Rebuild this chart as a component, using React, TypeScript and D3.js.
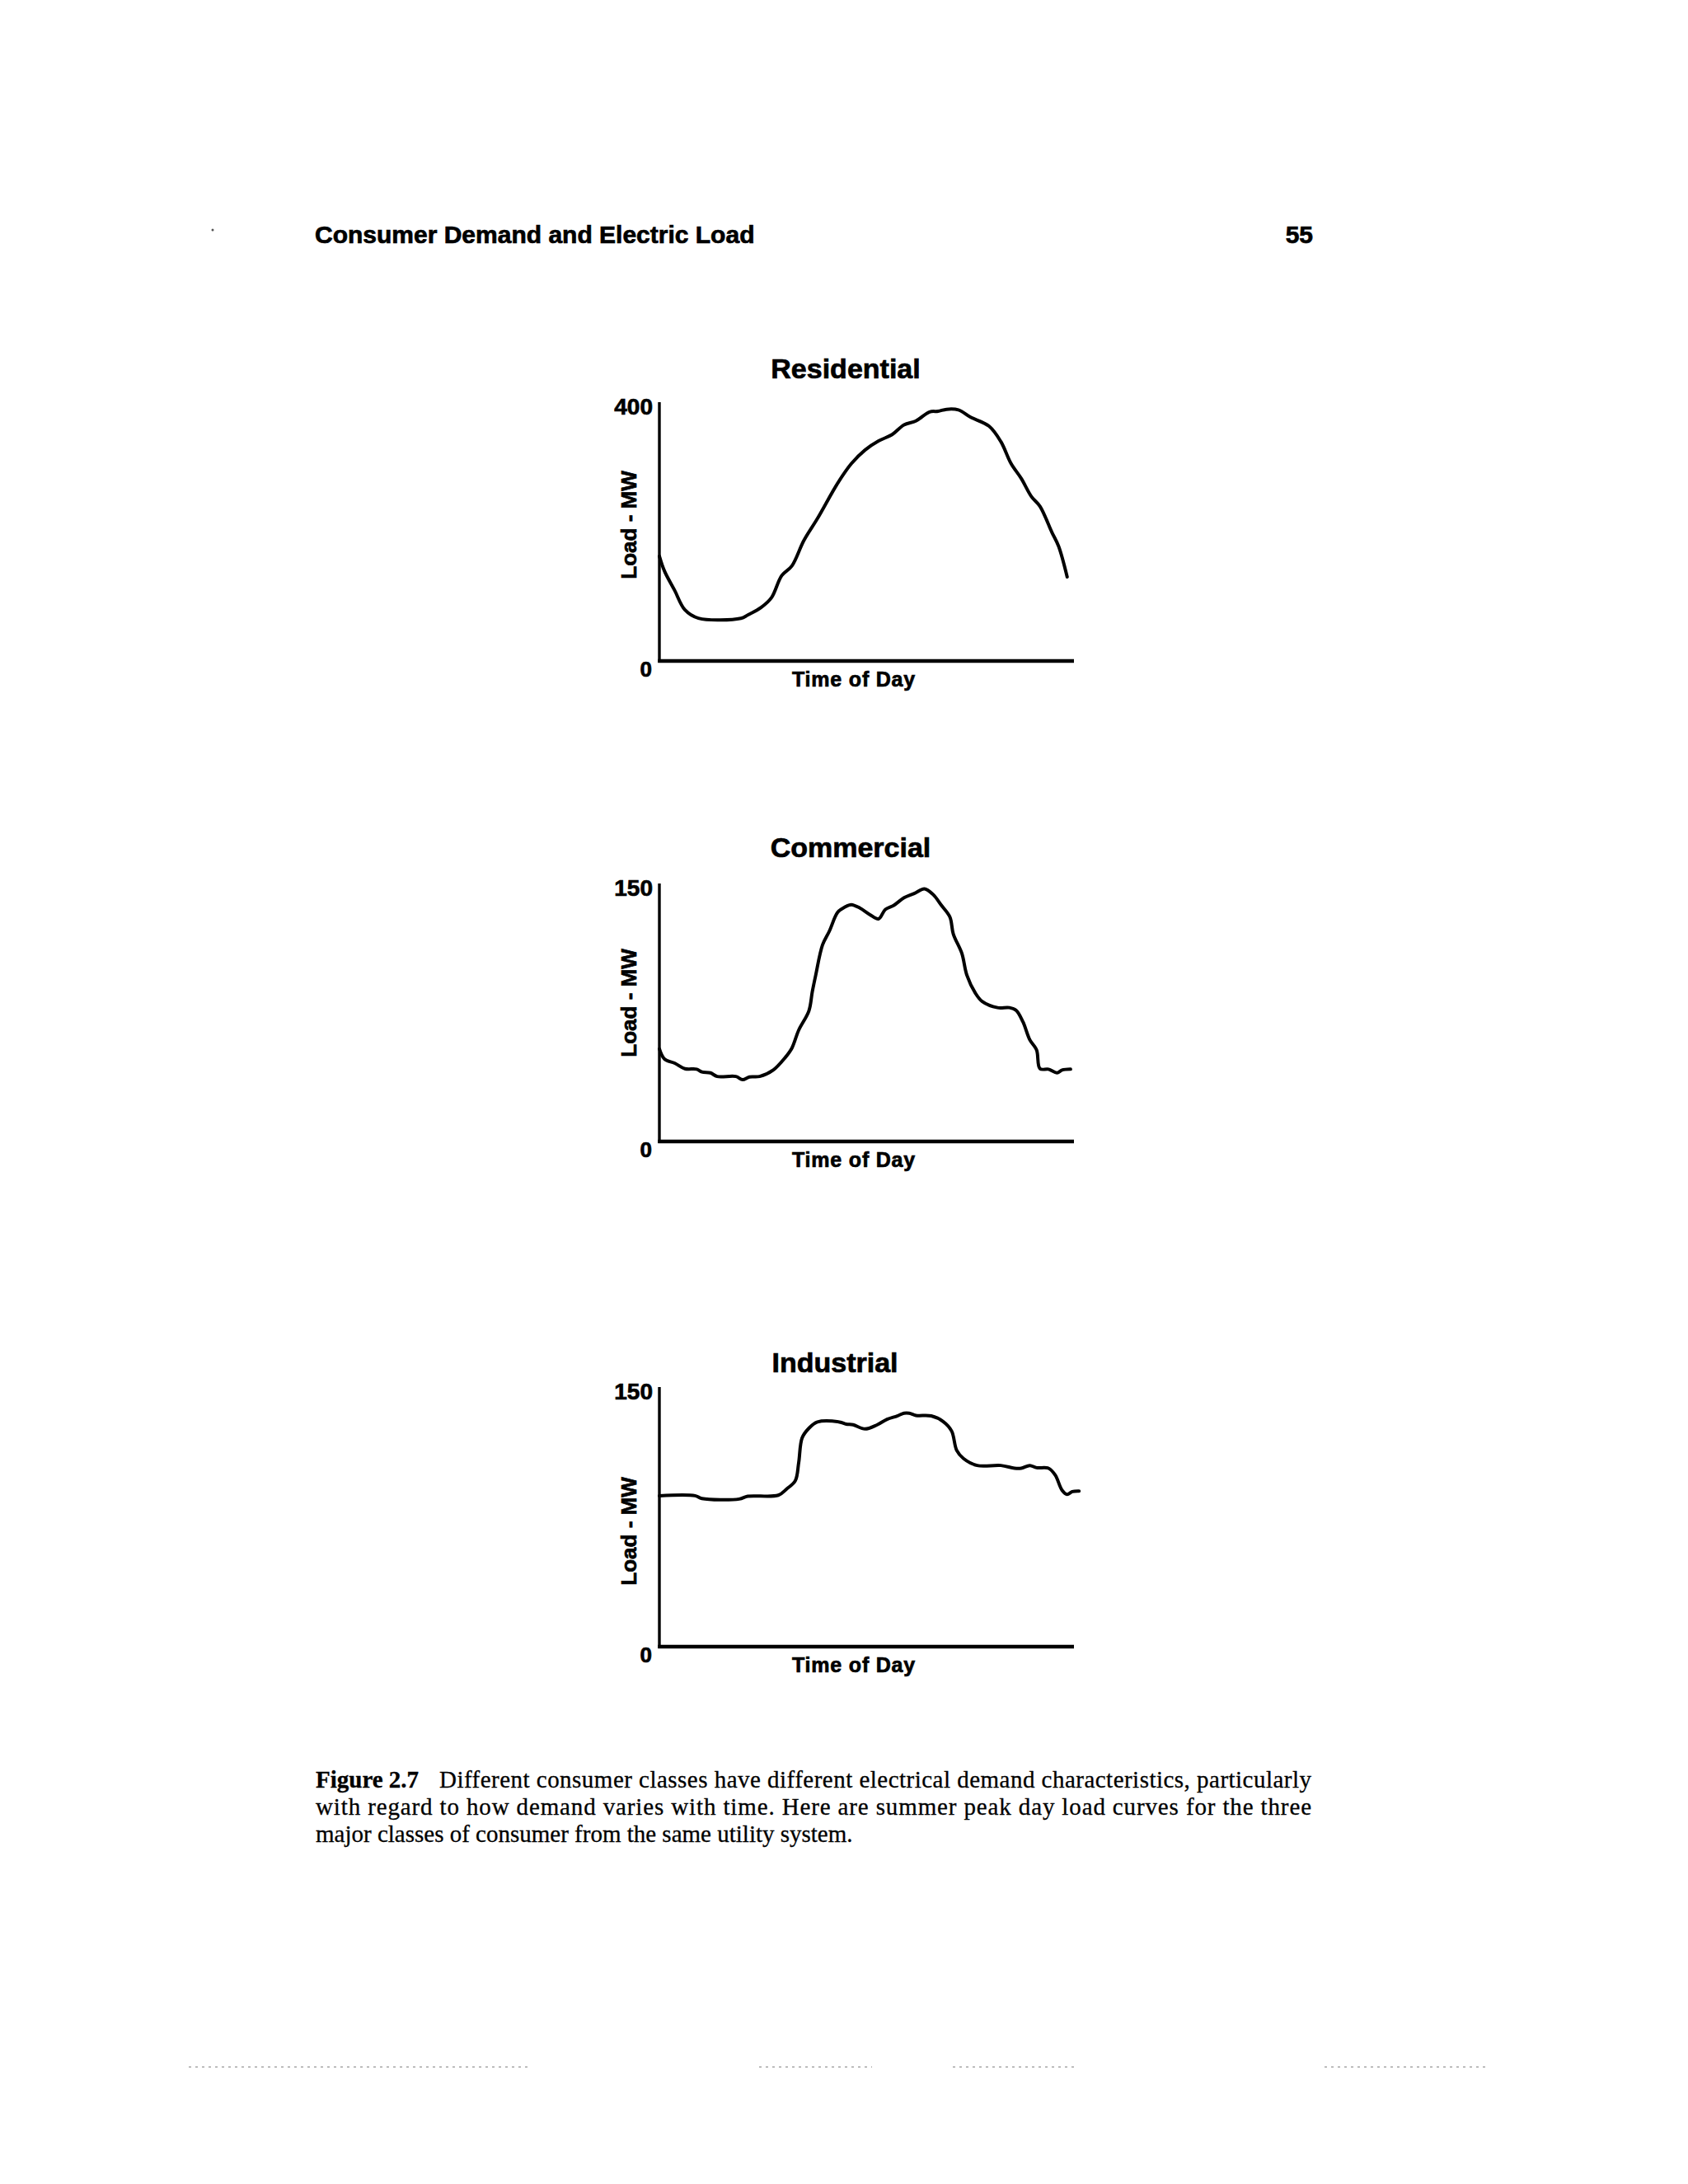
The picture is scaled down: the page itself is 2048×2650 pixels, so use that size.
import React from "react";
import * as d3 from "d3";

// ---- Data ----
const resHours = [0, 0.3, 0.9, 1.5, 2.3, 4.8, 5.2, 6.0, 6.6, 7.2, 7.8, 8.5, 9.3, 10.5, 11.3, 12.1, 12.9, 13.7, 14.4, 15.1, 15.9, 16.4, 16.9, 17.6, 18.3, 19.4, 20.1, 20.7, 21.3, 21.9, 22.4, 23.1, 23.5, 24.0];
const resLoad = [162, 139, 109, 79, 66, 66, 71, 83, 98, 132, 147, 186, 220, 275, 305, 326, 340, 350, 365, 371, 385, 386, 389, 388, 377, 363, 339, 305, 282, 254, 239, 199, 177, 130];

const comHours = [0.0, 0.3, 0.9, 1.5, 2.2, 2.5, 3.0, 3.4, 4.5, 4.9, 5.3, 5.9, 6.7, 7.4, 7.8, 8.2, 8.8, 9.0, 9.2, 9.6, 10.0, 10.5, 10.9, 11.3, 11.8, 12.4, 12.9, 13.3, 13.8, 14.4, 15.0, 15.6, 16.1, 16.6, 17.1, 17.3, 17.8, 18.1, 18.6, 19.0, 19.9, 20.6, 21.0, 21.4, 21.8, 22.2, 22.4, 22.9, 23.4, 23.7, 24.2];
const comLoad = [53.8, 47.9, 45.5, 42.3, 42.0, 40.4, 39.9, 37.8, 37.8, 35.9, 37.5, 37.8, 41.5, 48.7, 54.3, 64.7, 75.9, 87.0, 96.6, 114.2, 122.2, 133.3, 136.2, 137.7, 135.7, 131.8, 129.4, 134.9, 137.3, 141.7, 144.2, 146.9, 143.7, 137.3, 130.5, 120.6, 109.4, 96.6, 86.2, 81.4, 77.8, 77.8, 76.2, 69.5, 59.1, 53.2, 42.3, 42.0, 39.9, 41.5, 42.0];

const indHours = [0.0, 2.1, 2.5, 4.7, 5.2, 7.0, 7.5, 8.0, 8.2, 8.4, 8.8, 9.3, 10.6, 11.0, 11.4, 12.1, 12.8, 13.4, 14.0, 14.4, 14.7, 15.1, 16.0, 16.7, 17.2, 17.5, 17.9, 18.7, 20.1, 20.9, 21.3, 21.8, 22.2, 22.9, 23.3, 23.7, 24.0, 24.3, 24.7];
const indLoad = [87.2, 87.2, 85.6, 85.3, 86.9, 87.5, 91.2, 95.9, 106.3, 120.6, 126.2, 129.8, 129.8, 128.6, 128.2, 125.8, 128.1, 131.4, 133.3, 134.9, 134.9, 133.6, 133.3, 130.1, 124.6, 113.4, 108.7, 104.7, 104.7, 103.1, 103.1, 104.7, 103.4, 103.1, 99.1, 90.4, 88.0, 89.6, 89.9];

const panelTitles = ["Residential", "Commercial", "Industrial"];
const yMaxValues = [400, 150, 150];
const xAxisLabel = "Time of Day";
const yAxisLabel = "Load - MW";
const headerTitle = "Consumer Demand and Electric Load";
const pageNumber = "55";
const captionLead = "Figure 2.7";
const captionLine1 = "Different consumer classes have different electrical demand characteristics, particularly";
const captionLine2 = "with regard to how demand varies with time. Here are summer peak day load curves for the three";
const captionLine3 = "major classes of consumer from the same utility system.";

// ---- Layout ----
const W = 2048;
const H = 2650;
const plotLeft = 800;
const plotRight = 1303;
const hourMax = 24.4;
const panelLayout = [
  { top: 488, bottom: 802, titleX: 1026, titleY: 459, labelY: 637 },
  { top: 1072, bottom: 1385, titleX: 1032, titleY: 1040, labelY: 1217 },
  { top: 1683, bottom: 1998, titleX: 1013, titleY: 1665, labelY: 1858 },
];
const footerDashes = [
  [229, 640],
  [921, 1058],
  [1156, 1306],
  [1607, 1802],
];

const sans = "'Liberation Sans', Arial, Helvetica, sans-serif";
const serif = "'Liberation Serif', 'Times New Roman', Times, serif";
const heavy = { stroke: "#000", strokeWidth: 0.7 };

type Pt = [number, number];

function Panel({ idx, hours, loads }: { idx: number; hours: number[]; loads: number[] }) {
  const L = panelLayout[idx];
  const yMax = yMaxValues[idx];
  const x = d3.scaleLinear().domain([0, hourMax]).range([plotLeft, plotRight]);
  const y = d3.scaleLinear().domain([0, yMax]).range([L.bottom, L.top]);
  const pts: Pt[] = hours.map((h, i) => [h, loads[i]]);
  const line = d3
    .line<Pt>()
    .x((d) => x(d[0]))
    .y((d) => y(d[1]))
    .curve(d3.curveCatmullRom.alpha(0.5));
  const [x0, x1] = x.range();
  return (
    <g>
      <text x={L.titleX} y={L.titleY} textAnchor="middle" fontFamily={sans} fontWeight="bold" fontSize={34} {...heavy}>
        {panelTitles[idx]}
      </text>
      {/* axes */}
      <line x1={x0} x2={x0} y1={y(yMax)} y2={y(0) + 2} stroke="#000" strokeWidth={3.4} />
      <line x1={x0 - 1.7} x2={x1} y1={y(0)} y2={y(0)} stroke="#000" strokeWidth={4.6} />
      {/* tick labels */}
      <text x={792} y={y(yMax) + 15} textAnchor="end" fontFamily={sans} fontWeight="bold" fontSize={28} {...heavy}>
        {String(yMax)}
      </text>
      <text x={791} y={y(0) + 19} textAnchor="end" fontFamily={sans} fontWeight="bold" fontSize={26} {...heavy}>
        0
      </text>
      {/* axis labels */}
      <text
        transform={`translate(772,${L.labelY}) rotate(-90)`}
        textAnchor="middle"
        fontFamily={sans}
        fontWeight="bold"
        fontSize={26}
        {...heavy}
      >
        {yAxisLabel}
      </text>
      <text x={1036} y={y(0) + 31} textAnchor="middle" fontFamily={sans} fontWeight="bold" fontSize={25} letterSpacing={0.8} {...heavy}>
        {xAxisLabel}
      </text>
      {/* curve */}
      <path d={line(pts) || ""} fill="none" stroke="#000" strokeWidth={4} strokeLinejoin="round" strokeLinecap="round" />
    </g>
  );
}

export default function App() {
  return (
    <svg
      width={W}
      height={H}
      viewBox={`0 0 ${W} ${H}`}
      style={{ position: "absolute", left: 0, top: 0, background: "#fff" }}
    >
      <rect x={0} y={0} width={W} height={H} fill="#fff" />
      {/* running header */}
      <circle cx={258} cy={279} r={1.5} fill="#555" />
      <text x={382} y={295} fontFamily={sans} fontWeight="bold" fontSize={30} {...heavy}>
        {headerTitle}
      </text>
      <text x={1593} y={295} textAnchor="end" fontFamily={sans} fontWeight="bold" fontSize={30} {...heavy}>
        {pageNumber}
      </text>

      <Panel idx={0} hours={resHours} loads={resLoad} />
      <Panel idx={1} hours={comHours} loads={comLoad} />
      <Panel idx={2} hours={indHours} loads={indLoad} />

      {/* caption */}
      <text x={383} y={2169} fontFamily={serif} fontWeight="bold" fontSize={29} stroke="#000" strokeWidth={0.3}>
        {captionLead}
      </text>
      <text x={533} y={2169} fontFamily={serif} fontSize={29} textLength={1058} lengthAdjust="spacing" stroke="#000" strokeWidth={0.3}>
        {captionLine1}
      </text>
      <text x={383} y={2202} fontFamily={serif} fontSize={29} textLength={1208} lengthAdjust="spacing" stroke="#000" strokeWidth={0.3}>
        {captionLine2}
      </text>
      <text x={383} y={2235} fontFamily={serif} fontSize={29} stroke="#000" strokeWidth={0.3}>
        {captionLine3}
      </text>

      {/* faint scan marks at the foot of the page */}
      {footerDashes.map(([a, b], i) => (
        <line key={i} x1={a} x2={b} y1={2508} y2={2508} stroke="#a8a8a8" strokeWidth={1.5} strokeDasharray="3 5" />
      ))}
    </svg>
  );
}
